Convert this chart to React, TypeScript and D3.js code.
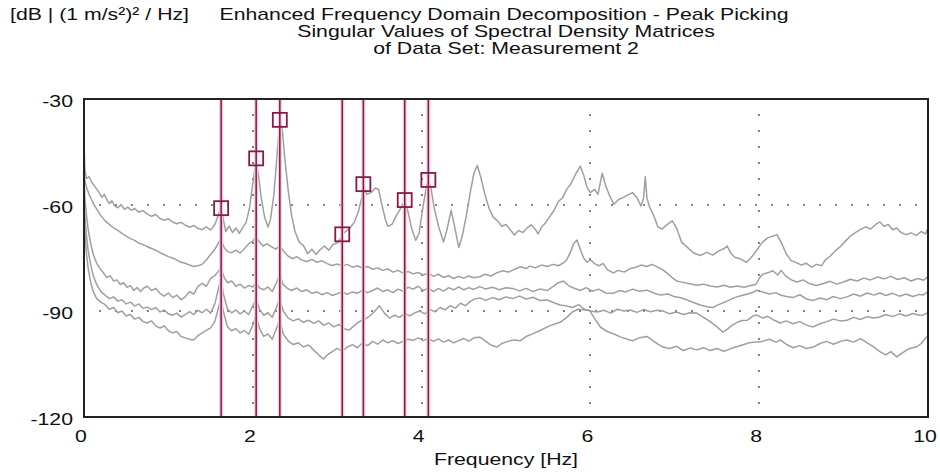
import React from 'react';
import * as d3 from 'd3';

// axis ticks
const xTicks = [0, 2, 4, 6, 8, 10];
const yTicks = [-30, -60, -90, -120];
const gridX = [2, 4, 6, 8];
const gridY = [-60, -90];

// picked peaks (Hz, dB)
const peakHz = [1.625, 2.04, 2.32, 3.06, 3.31, 3.8, 4.08];
const peakDb = [-60.9, -46.8, -35.9, -68.3, -54.1, -58.6, -52.9];

// singular values [Hz, dB]
const sv1 = [[0,-42],[0.01,-50],[0.03,-52.5],[0.06,-52],[0.09,-53.5],[0.12,-54.5],[0.15,-55.5],[0.18,-56.5],[0.21,-57.8],[0.24,-57],[0.27,-58.5],[0.3,-59.6],[0.33,-58.8],[0.36,-60.2],[0.4,-60.8],[0.44,-59.9],[0.48,-61.2],[0.52,-60.6],[0.56,-61.5],[0.6,-61],[0.65,-62],[0.7,-61.6],[0.75,-62.6],[0.8,-63.2],[0.85,-62.7],[0.9,-63.8],[0.95,-64.3],[1.0,-63.9],[1.05,-64.8],[1.1,-65.3],[1.15,-64.9],[1.2,-65.7],[1.25,-66.3],[1.3,-65.8],[1.35,-66.6],[1.4,-67],[1.45,-66.2],[1.5,-67.1],[1.55,-65.5],[1.59,-63],[1.625,-60.6],[1.65,-64],[1.68,-67.5],[1.72,-66],[1.76,-67.8],[1.8,-66.5],[1.84,-68],[1.88,-66.4],[1.92,-65],[1.96,-61],[2.0,-54],[2.04,-47.5],[2.07,-52],[2.1,-58],[2.14,-63.5],[2.18,-66.2],[2.21,-64],[2.25,-57],[2.28,-48],[2.32,-36],[2.35,-39],[2.38,-47],[2.42,-56],[2.46,-63],[2.5,-67.5],[2.55,-70.5],[2.6,-71.5],[2.65,-73.8],[2.7,-72.5],[2.75,-74],[2.8,-72.6],[2.85,-71.6],[2.9,-72.8],[2.95,-71.2],[3.0,-70.8],[3.04,-69.5],[3.06,-68.3],[3.1,-67.5],[3.15,-66.5],[3.2,-65],[3.25,-62],[3.29,-58],[3.31,-54.5],[3.35,-57],[3.4,-56.5],[3.45,-55.2],[3.49,-55.6],[3.53,-60],[3.57,-64],[3.6,-66],[3.65,-65.5],[3.7,-63],[3.75,-61],[3.8,-58.7],[3.84,-62],[3.88,-66.5],[3.93,-70],[3.97,-68],[4.02,-60],[4.06,-54.5],[4.08,-52.9],[4.11,-55],[4.15,-61],[4.2,-66],[4.26,-70.5],[4.3,-67],[4.35,-61.5],[4.39,-66],[4.44,-72],[4.48,-69],[4.53,-63],[4.58,-56],[4.62,-51],[4.66,-48.8],[4.7,-52],[4.75,-57],[4.8,-61],[4.85,-63.5],[4.9,-64.5],[4.95,-66],[5.0,-65.5],[5.05,-67],[5.1,-68.5],[5.15,-67.2],[5.2,-67.8],[5.25,-66.5],[5.3,-65.6],[5.35,-67],[5.38,-68.2],[5.42,-66.3],[5.47,-65],[5.52,-63.2],[5.57,-61.5],[5.62,-59],[5.67,-58],[5.72,-55.5],[5.77,-54],[5.82,-51.5],[5.88,-49],[5.92,-51.5],[5.96,-55],[6.0,-56.5],[6.05,-55.6],[6.09,-57],[6.14,-51],[6.18,-54.5],[6.23,-57.5],[6.28,-59.8],[6.33,-58.5],[6.38,-58],[6.44,-57.2],[6.5,-56.5],[6.55,-57.8],[6.6,-60.3],[6.63,-58],[6.65,-52],[6.67,-58],[6.7,-60.5],[6.75,-63],[6.8,-66.2],[6.85,-66.8],[6.9,-65.7],[6.97,-64.5],[7.02,-66.5],[7.08,-70.5],[7.15,-72],[7.22,-73.5],[7.3,-74.3],[7.38,-73.4],[7.45,-74.2],[7.52,-73],[7.58,-72.4],[7.62,-71.6],[7.66,-73.5],[7.71,-74.8],[7.78,-75.3],[7.85,-76.2],[7.9,-75],[7.95,-73.5],[8.0,-71.8],[8.04,-70.5],[8.1,-69.3],[8.16,-68.8],[8.21,-68.4],[8.26,-70.5],[8.32,-73.8],[8.38,-75.8],[8.44,-76.3],[8.5,-77],[8.56,-76.5],[8.62,-77.6],[8.68,-76.8],[8.74,-77.2],[8.78,-75.6],[8.84,-74.5],[8.9,-73],[8.96,-71.8],[9.02,-70.3],[9.08,-68.8],[9.14,-67.8],[9.2,-66.9],[9.26,-66.2],[9.32,-66.8],[9.38,-65.5],[9.43,-64.8],[9.48,-66],[9.53,-65.5],[9.58,-67],[9.63,-66.5],[9.68,-67.8],[9.74,-68.4],[9.8,-67.9],[9.86,-68.6],[9.92,-67.5],[9.97,-68.2],[10.0,-66.5]];

const sv2 = [[0,-48],[0.01,-53],[0.03,-55],[0.06,-57],[0.09,-58.5],[0.12,-60],[0.16,-61.5],[0.2,-63],[0.25,-64.5],[0.3,-65.5],[0.35,-66.5],[0.4,-67.2],[0.45,-68],[0.5,-68.8],[0.55,-69.5],[0.6,-70],[0.65,-70.8],[0.7,-71.2],[0.75,-71.8],[0.8,-72.3],[0.85,-72.8],[0.9,-73.5],[0.95,-74],[1.0,-74.6],[1.05,-75],[1.1,-75.6],[1.15,-76.2],[1.2,-76.5],[1.25,-77],[1.3,-77.4],[1.35,-77.2],[1.4,-76.8],[1.45,-75.5],[1.5,-74],[1.55,-72.5],[1.6,-70.5],[1.625,-69.8],[1.66,-72],[1.7,-73.2],[1.75,-73.5],[1.8,-72.8],[1.85,-73.6],[1.9,-72.4],[1.95,-71],[2.0,-70.2],[2.04,-69],[2.08,-70.5],[2.12,-71.6],[2.17,-71],[2.22,-71.8],[2.27,-72.5],[2.32,-71.5],[2.37,-73.2],[2.42,-74.5],[2.47,-75.2],[2.52,-74.6],[2.58,-75.6],[2.64,-76],[2.7,-75.4],[2.76,-76.2],[2.82,-75.8],[2.88,-76.6],[2.94,-77.1],[3.0,-76.7],[3.06,-77.3],[3.12,-76.8],[3.18,-77.6],[3.24,-77.2],[3.3,-77.9],[3.36,-77.4],[3.42,-78.2],[3.48,-77.8],[3.54,-78.5],[3.6,-78.1],[3.66,-79],[3.72,-78.5],[3.78,-79.3],[3.84,-78.8],[3.9,-79.5],[3.96,-79.1],[4.02,-79.8],[4.08,-79.3],[4.14,-80.2],[4.2,-79.6],[4.26,-80.5],[4.32,-80],[4.38,-80.8],[4.44,-80.2],[4.5,-80.7],[4.56,-80.1],[4.62,-80.6],[4.69,-80.3],[4.75,-79.6],[4.82,-80.1],[4.89,-79.2],[4.96,-78.6],[5.03,-79],[5.1,-78.2],[5.17,-77.5],[5.24,-78],[5.28,-77.3],[5.35,-77.8],[5.42,-77],[5.49,-77.4],[5.56,-76.8],[5.62,-77.2],[5.68,-76.4],[5.72,-75.5],[5.77,-73],[5.8,-71],[5.84,-69.9],[5.88,-72.5],[5.92,-75],[5.96,-76.2],[6.0,-75.5],[6.05,-76.6],[6.1,-77.2],[6.15,-76.5],[6.2,-78.3],[6.27,-79.2],[6.33,-78.5],[6.4,-79],[6.47,-78],[6.54,-77.6],[6.6,-77],[6.67,-77.4],[6.73,-76.8],[6.79,-77.5],[6.85,-78.2],[6.92,-79.5],[6.98,-80.8],[7.03,-81.6],[7.1,-81.9],[7.18,-82.3],[7.26,-82.7],[7.34,-82.4],[7.42,-82.9],[7.5,-83.2],[7.58,-82.7],[7.66,-83.3],[7.74,-82.9],[7.82,-83.3],[7.9,-82.8],[7.96,-82.5],[8.0,-80.8],[8.04,-79.6],[8.1,-79.2],[8.16,-78.6],[8.22,-79.8],[8.26,-78.5],[8.31,-80],[8.38,-81.2],[8.45,-81.8],[8.52,-81.2],[8.6,-82.3],[8.68,-82.8],[8.76,-82.2],[8.84,-81.6],[8.92,-82.4],[9.0,-81.8],[9.08,-81],[9.16,-81.5],[9.24,-80.7],[9.32,-81.2],[9.4,-80.4],[9.48,-80.9],[9.56,-80.2],[9.64,-81.1],[9.72,-80.6],[9.8,-81.5],[9.88,-80.8],[9.95,-81.3],[10.0,-80.2]];

const sv3 = [[0,-50],[0.01,-58],[0.03,-63],[0.05,-67],[0.08,-71],[0.11,-74],[0.15,-76.5],[0.19,-78],[0.23,-79.2],[0.27,-80.5],[0.31,-80],[0.35,-81.5],[0.39,-81.2],[0.43,-82.5],[0.47,-82],[0.51,-83.3],[0.55,-82.8],[0.59,-84.2],[0.63,-83.4],[0.67,-84.5],[0.71,-83.5],[0.75,-83],[0.8,-84.2],[0.85,-83.6],[0.9,-85],[0.95,-85.8],[1.0,-84.9],[1.05,-86.2],[1.1,-85.5],[1.15,-86.8],[1.2,-86],[1.25,-84.5],[1.3,-85.2],[1.35,-83],[1.4,-82.2],[1.45,-83],[1.5,-80.8],[1.55,-80],[1.6,-78.5],[1.625,-77.8],[1.66,-80.5],[1.7,-82],[1.75,-81.5],[1.8,-83],[1.85,-82.4],[1.9,-83.5],[1.95,-82.8],[2.0,-83.2],[2.04,-81.8],[2.08,-83.5],[2.13,-84],[2.18,-83.2],[2.23,-84.5],[2.28,-82],[2.32,-79.8],[2.36,-82.5],[2.41,-83.6],[2.46,-84.2],[2.52,-83.5],[2.58,-84.5],[2.64,-84],[2.7,-85],[2.76,-84.6],[2.82,-85.4],[2.88,-84.8],[2.94,-85.6],[3.0,-85.1],[3.06,-84.5],[3.12,-85.3],[3.18,-84.6],[3.24,-85],[3.3,-84.1],[3.36,-84.8],[3.42,-84.2],[3.48,-83.5],[3.54,-84.5],[3.6,-84],[3.66,-84.8],[3.72,-83.8],[3.78,-84.4],[3.84,-83.3],[3.9,-83.8],[3.96,-83],[4.02,-84.2],[4.08,-83.5],[4.14,-84.5],[4.2,-83.6],[4.26,-84.4],[4.32,-83.4],[4.38,-84],[4.44,-83.2],[4.5,-84],[4.56,-83.4],[4.62,-83.9],[4.69,-83.1],[4.76,-83.8],[4.84,-83.3],[4.92,-84],[5.0,-83.4],[5.08,-83.6],[5.16,-84.3],[5.24,-83.6],[5.32,-84.5],[5.4,-83.8],[5.49,-84.2],[5.56,-83],[5.62,-82],[5.68,-81.5],[5.74,-82.8],[5.8,-83.5],[5.88,-84.2],[5.95,-83.4],[6.02,-84.4],[6.1,-83.8],[6.18,-84.9],[6.27,-85],[6.35,-84.2],[6.42,-84.6],[6.5,-83.8],[6.58,-84.4],[6.67,-84.1],[6.75,-84.9],[6.83,-85.5],[6.92,-85.2],[7.0,-86],[7.06,-86.2],[7.14,-86.8],[7.22,-87.6],[7.3,-88.3],[7.38,-88.8],[7.45,-89],[7.52,-88.2],[7.6,-87.4],[7.68,-86.5],[7.76,-85.8],[7.86,-85.2],[7.94,-84.6],[7.97,-84.1],[8.04,-84.6],[8.12,-85.2],[8.2,-84.8],[8.25,-85.5],[8.32,-85.9],[8.4,-86.2],[8.48,-85.4],[8.56,-86.6],[8.64,-87],[8.72,-86.3],[8.8,-86.8],[8.88,-85.9],[8.96,-86.5],[9.04,-86],[9.12,-85.2],[9.2,-85.8],[9.28,-84.9],[9.36,-85.5],[9.43,-84.9],[9.5,-85.6],[9.58,-85],[9.66,-85.8],[9.74,-85.2],[9.82,-85.9],[9.9,-85.3],[9.94,-85.5],[10.0,-84.5]];

const sv4 = [[0,-55],[0.01,-63],[0.03,-69],[0.05,-73],[0.08,-77],[0.11,-80],[0.15,-82.5],[0.2,-84.5],[0.25,-85.5],[0.3,-86.5],[0.35,-86],[0.4,-87.2],[0.45,-86.8],[0.5,-88],[0.55,-87.5],[0.6,-88.6],[0.65,-88],[0.7,-89.2],[0.75,-88.9],[0.8,-89.6],[0.85,-89],[0.9,-90.3],[0.95,-89.7],[1.0,-90.8],[1.05,-91.2],[1.1,-90.6],[1.15,-91.7],[1.2,-91],[1.25,-90.2],[1.3,-91],[1.35,-89.8],[1.4,-90.5],[1.45,-89.5],[1.5,-90.6],[1.55,-88],[1.6,-83],[1.625,-81.2],[1.65,-85],[1.7,-89.5],[1.75,-90.5],[1.8,-89.7],[1.85,-90.8],[1.9,-90],[1.95,-91],[2.0,-88.5],[2.04,-86.5],[2.08,-89.5],[2.13,-91.2],[2.18,-90.5],[2.23,-91.8],[2.28,-89],[2.32,-86.5],[2.36,-90],[2.42,-92],[2.48,-92.8],[2.54,-92.2],[2.6,-93.2],[2.66,-92.6],[2.72,-93.5],[2.78,-92.8],[2.84,-94],[2.9,-93.4],[2.96,-94.5],[3.02,-93.8],[3.08,-95],[3.14,-95.4],[3.2,-94.2],[3.26,-93],[3.32,-92.4],[3.38,-91.5],[3.44,-90.2],[3.5,-88.5],[3.56,-90.6],[3.62,-92],[3.68,-91.2],[3.74,-91.8],[3.8,-90.6],[3.86,-91.4],[3.92,-90.5],[3.98,-90],[4.04,-90.8],[4.1,-89.6],[4.16,-90.2],[4.22,-89],[4.28,-89.7],[4.34,-88.5],[4.4,-89.2],[4.46,-87.8],[4.52,-88.5],[4.58,-87.2],[4.64,-86.5],[4.69,-86.3],[4.76,-87],[4.84,-86.2],[4.92,-86.8],[5.0,-86],[5.08,-86.5],[5.16,-85.8],[5.24,-86.6],[5.32,-86.1],[5.4,-87],[5.49,-86.9],[5.56,-87.6],[5.64,-88.3],[5.72,-88.6],[5.79,-89],[5.86,-88.2],[5.93,-89.5],[6.0,-90],[6.08,-90.3],[6.16,-89.8],[6.24,-90.6],[6.32,-89.5],[6.4,-90],[6.47,-89.7],[6.55,-90.4],[6.63,-89.6],[6.71,-90.2],[6.79,-89.8],[6.86,-90],[6.94,-90.8],[7.02,-90.3],[7.1,-91],[7.18,-90.5],[7.26,-90.6],[7.34,-91.8],[7.42,-93],[7.5,-94.5],[7.57,-96],[7.62,-95.2],[7.68,-94],[7.74,-93.2],[7.8,-92.7],[7.86,-92.6],[7.92,-91.5],[7.97,-91.1],[8.04,-92],[8.1,-91.5],[8.16,-92.4],[8.25,-93.4],[8.32,-92.8],[8.4,-93.6],[8.48,-93],[8.56,-94],[8.64,-94.5],[8.72,-93.6],[8.8,-93],[8.88,-92.3],[8.96,-92.8],[9.04,-92.6],[9.12,-91.8],[9.2,-92.4],[9.28,-91.6],[9.36,-92],[9.43,-91.7],[9.5,-91],[9.58,-91.6],[9.66,-90.8],[9.74,-91.4],[9.82,-90.7],[9.9,-91.2],[9.94,-91.1],[10.0,-90.5]];

const sv5 = [[0,-60],[0.01,-68],[0.03,-74],[0.05,-78],[0.08,-82],[0.11,-84.5],[0.15,-86.5],[0.2,-87.5],[0.25,-88.2],[0.3,-89.5],[0.35,-89],[0.4,-90.5],[0.45,-90],[0.5,-91.4],[0.55,-91],[0.6,-92.3],[0.65,-91.8],[0.7,-93],[0.75,-93.4],[0.8,-92.8],[0.85,-94.2],[0.9,-94.8],[0.95,-94.2],[1.0,-95.6],[1.05,-96.2],[1.1,-95.8],[1.15,-97.2],[1.2,-97.6],[1.25,-98],[1.3,-98.2],[1.35,-97],[1.4,-96.2],[1.45,-95.5],[1.5,-94.8],[1.55,-93],[1.6,-88.5],[1.625,-86.8],[1.65,-90],[1.7,-94.5],[1.75,-95.6],[1.8,-95],[1.85,-96.2],[1.9,-95.5],[1.95,-96.6],[2.0,-94],[2.04,-91.5],[2.08,-95],[2.13,-97.2],[2.18,-96.5],[2.23,-98],[2.28,-95],[2.32,-92.5],[2.36,-96.5],[2.42,-98.5],[2.48,-99.5],[2.54,-99],[2.6,-100.2],[2.66,-99.6],[2.72,-101],[2.78,-102.4],[2.84,-103.6],[2.88,-102.5],[2.94,-101.5],[3.0,-100.6],[3.06,-101.4],[3.12,-100.2],[3.18,-99.5],[3.24,-100.4],[3.3,-99],[3.36,-99.8],[3.42,-98.6],[3.48,-99.4],[3.54,-98.2],[3.6,-99],[3.66,-98.4],[3.72,-99.2],[3.78,-98.6],[3.84,-98],[3.9,-98.3],[3.96,-97.6],[4.02,-98.4],[4.08,-97.8],[4.14,-98.6],[4.2,-97.9],[4.26,-98.8],[4.32,-98.2],[4.38,-99],[4.44,-98.4],[4.5,-97.8],[4.56,-98.5],[4.62,-97.6],[4.69,-97.4],[4.76,-98.6],[4.82,-99.6],[4.89,-100.2],[4.95,-99.2],[5.02,-98.6],[5.1,-98.2],[5.17,-98.4],[5.24,-97.2],[5.32,-96.4],[5.4,-95.6],[5.49,-94.5],[5.56,-93.8],[5.64,-93.2],[5.72,-91.8],[5.79,-90.2],[5.86,-89.5],[5.94,-89.7],[5.99,-89.8],[6.06,-92.5],[6.12,-94.6],[6.2,-95.8],[6.28,-96.5],[6.36,-97.4],[6.44,-98],[6.5,-98.4],[6.58,-97.6],[6.67,-97.2],[6.74,-98.4],[6.8,-99.4],[6.86,-100.2],[6.94,-100.6],[7.02,-100],[7.1,-101.2],[7.18,-100.5],[7.26,-101],[7.34,-100.4],[7.42,-101.2],[7.5,-100.6],[7.58,-101.4],[7.65,-100.8],[7.72,-100.2],[7.8,-99.6],[7.88,-99],[7.97,-98.8],[8.04,-98.6],[8.12,-98],[8.2,-98.8],[8.25,-98.2],[8.32,-99.4],[8.4,-100.4],[8.48,-99.8],[8.56,-100.6],[8.64,-100.2],[8.72,-99.2],[8.8,-98.6],[8.88,-99.4],[8.96,-98.6],[9.04,-98.2],[9.12,-98.8],[9.2,-97.8],[9.28,-99],[9.36,-100.2],[9.43,-101.5],[9.5,-102.4],[9.56,-101.5],[9.63,-103],[9.7,-101.8],[9.78,-100.6],[9.86,-100.2],[9.92,-99.2],[9.96,-98],[10.0,-97]];

const curves = [sv5, sv4, sv3, sv2, sv1];

const W = 940;
const H = 473;
const margin = { top: 99, right: 12, bottom: 56, left: 84 };
const FONT = "Arial, 'Liberation Sans', sans-serif";
const STRETCH = 1.25; // text in the reference is widened horizontally
const MAROON = '#861a4a';

function Label({ x, y, anchor = 'start', children }: any) {
    return (
        <text
            transform={`translate(${x},${y}) scale(${STRETCH},1)`}
            textAnchor={anchor}
            fontFamily={FONT}
            fontSize={17}
            fill="#111"
        >
            {children}
        </text>
    );
}

export default function App() {
    const x = d3.scaleLinear().domain([0, 10]).range([margin.left, W - margin.right]);
    const y = d3.scaleLinear().domain([-120, -30]).range([H - margin.bottom, margin.top]);
    const line = d3.line<number[]>().x(d => x(d[0])).y(d => y(d[1]));

    const top = margin.top;
    const bottom = H - margin.bottom;
    const left = margin.left;
    const right = W - margin.right;
    const cx = (left + right) / 2;

    // dotted grid: dots every 16px from the frame
    const hDots = d3.range(left + 16, right - 4, 16);
    const vDots = d3.range(top + 16, bottom - 4, 16);

    return (
        <svg width={W} height={H} style={{ position: 'absolute', left: 0, top: 0, background: '#fff' }}>
            <defs>
                <clipPath id="plot">
                    <rect x={left} y={top} width={right - left} height={bottom - top} />
                </clipPath>
            </defs>

            {/* titles */}
            <Label x={10} y={20}>[dB | (1 m/s²)² / Hz]</Label>
            <Label x={cx - 2} y={20} anchor="middle">Enhanced Frequency Domain Decomposition - Peak Picking</Label>
            <Label x={cx} y={37} anchor="middle">Singular Values of Spectral Density Matrices</Label>
            <Label x={cx} y={54} anchor="middle">of Data Set: Measurement 2</Label>

            {/* grid dots */}
            <g fill="#222">
                {gridY.map(v => hDots.map(px => (
                    <rect key={`h${v}-${px}`} x={px - 0.75} y={Math.round(y(v)) - 0.75} width={1.5} height={1.5} />
                )))}
                {gridX.map(v => vDots.map(py => (
                    <rect key={`v${v}-${py}`} x={Math.round(x(v)) - 0.75} y={py - 0.75} width={1.5} height={1.5} />
                )))}
            </g>

            {/* singular value curves */}
            <g clipPath="url(#plot)" fill="none" stroke="#9f9f9f" strokeWidth={1.5} strokeLinejoin="round">
                {curves.map((c, i) => <path key={i} d={line(c as any) || ''} />)}
            </g>

            {/* peak picking lines */}
            <g>
                {peakHz.map((f, i) => (
                    <g key={i}>
                        <line x1={x(f)} x2={x(f)} y1={top} y2={bottom} stroke="#f1cbdb" strokeWidth={4} />
                        <line x1={x(f)} x2={x(f)} y1={top} y2={bottom} stroke={MAROON} strokeWidth={1.5} />
                        <rect
                            x={x(f) - 7}
                            y={y(peakDb[i]) - 7}
                            width={14}
                            height={14}
                            fill="none"
                            stroke={MAROON}
                            strokeWidth={1.8}
                        />
                    </g>
                ))}
            </g>

            {/* frame */}
            <rect x={left} y={top} width={right - left} height={bottom - top} fill="none" stroke="#222" strokeWidth={2} />

            {/* tick labels */}
            {yTicks.map(t => (
                <Label key={t} x={73} y={y(t) + 8} anchor="end">{t}</Label>
            ))}
            {xTicks.map(t => (
                <Label key={t} x={x(t) - 3} y={442} anchor="middle">{t}</Label>
            ))}
            <Label x={cx} y={465} anchor="middle">Frequency [Hz]</Label>
        </svg>
    );
}
